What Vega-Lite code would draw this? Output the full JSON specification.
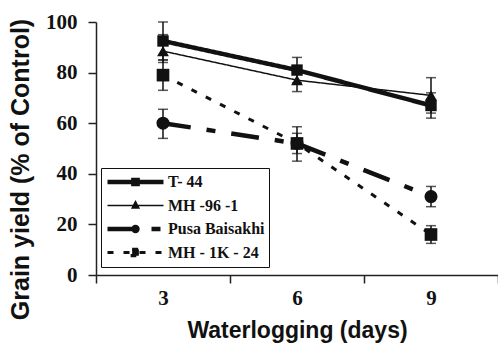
{
  "$schema": "https://vega.github.io/schema/vega-lite/v6.json",
  "width": 402,
  "height": 253,
  "autosize": {"type": "none"},
  "padding": {"left": 96, "top": 22, "right": 0, "bottom": 72},
  "background": "white",
  "config": {
    "view": {"stroke": null},
    "axis": {
      "domainColor": "#222",
      "domainWidth": 1.5,
      "tickColor": "#222",
      "tickWidth": 1.5,
      "tickSize": 8,
      "grid": false,
      "labelFont": "Liberation Serif",
      "labelFontWeight": "bold",
      "labelFontSize": 21,
      "labelColor": "#111",
      "titleFont": "Liberation Sans",
      "titleFontWeight": "bold",
      "titleColor": "#111"
    }
  },
  "data": {
    "values": [
      {"day": 3, "series": "T- 44", "value": 92.5, "lo": 85, "hi": 100},
      {"day": 6, "series": "T- 44", "value": 81, "lo": 76, "hi": 86},
      {"day": 9, "series": "T- 44", "value": 67, "lo": 62, "hi": 72},
      {"day": 3, "series": "MH -96 -1", "value": 88.5, "lo": 84, "hi": 95},
      {"day": 6, "series": "MH -96 -1", "value": 77, "lo": 72.5, "hi": 81.5},
      {"day": 9, "series": "MH -96 -1", "value": 71, "lo": 64, "hi": 78},
      {"day": 3, "series": "Pusa Baisakhi", "value": 60, "lo": 54, "hi": 65.5},
      {"day": 6, "series": "Pusa Baisakhi", "value": 52, "lo": 48, "hi": 56},
      {"day": 9, "series": "Pusa Baisakhi", "value": 31, "lo": 27, "hi": 35},
      {"day": 3, "series": "MH - 1K - 24", "value": 79, "lo": 73, "hi": 85},
      {"day": 6, "series": "MH - 1K - 24", "value": 52, "lo": 45, "hi": 58.6},
      {"day": 9, "series": "MH - 1K - 24", "value": 16, "lo": 12.5, "hi": 19.5}
    ]
  },
  "encoding": {
    "x": {
      "field": "day",
      "type": "ordinal",
      "scale": {"type": "band", "paddingInner": 0, "paddingOuter": 0},
      "axis": {
        "title": "Waterlogging (days)",
        "titleFontSize": 23,
        "titlePadding": 11,
        "labelAngle": 0,
        "tickBand": "extent",
        "labelPadding": 4
      }
    }
  },
  "layer": [
    {
      "mark": {"type": "errorbar", "color": "#111", "thickness": 1.5, "ticks": {"size": 10, "thickness": 1.5}},
      "encoding": {
        "y": {"field": "lo", "type": "quantitative", "title": "Grain yield (% of Control)"},
        "y2": {"field": "hi"},
        "detail": {"field": "series"}
      }
    },
    {
      "mark": {"type": "line", "color": "#111"},
      "encoding": {
        "y": {
          "field": "value",
          "type": "quantitative",
          "title": "Grain yield (% of Control)",
          "scale": {"domain": [0, 100], "nice": false, "zero": false},
          "axis": {
            "title": "Grain yield (% of Control)",
            "titleFontSize": 25,
            "values": [0, 20, 40, 60, 80, 100],
            "labelPadding": 11,
            "titleY": 147,
            "titleX": -63
          }
        },
        "strokeDash": {
          "field": "series",
          "type": "nominal",
          "scale": {
            "domain": ["T- 44", "MH -96 -1", "Pusa Baisakhi", "MH - 1K - 24"],
            "range": [[1, 0], [1, 0], [28, 16, 9, 16], [6, 10]]
          },
          "legend": {
            "title": null,
            "orient": "none",
            "legendX": 5,
            "legendY": 146,
            "padding": 4,
            "strokeColor": "#111",
            "fillColor": "white",
            "symbolSize": 3136,
            "clipHeight": 20,
            "rowPadding": 3.5,
            "labelOffset": 2,
            "labelFont": "Liberation Serif",
            "labelFontWeight": "bold",
            "labelFontSize": 16,
            "labelColor": "#111",
            "symbolStrokeColor": "#111",
            "symbolFillColor": "#111",
            "encode": {
              "symbols": {
                "update": {
                  "shape": {"signal": "datum.value === 'T- 44' ? 'M-1,0H1M-0.075,-0.075H0.075V0.075H-0.075Z' : datum.value === 'MH -96 -1' ? 'M-1,0H1M0,-0.14L0.12,0.09H-0.12Z' : datum.value === 'Pusa Baisakhi' ? 'M-1,0H1M0.07,0A0.07,0.07,0,1,1,-0.07,0A0.07,0.07,0,1,1,0.07,0Z' : 'M-1,0H1M-0.12,-0.12H0.12V0.12H-0.12Z'"},
                  "size": {"value": 3136},
                  "strokeWidth": {"signal": "datum.value === 'T- 44' ? 4.5 : datum.value === 'MH -96 -1' ? 1.5 : datum.value === 'Pusa Baisakhi' ? 4.5 : 3"},
                  "fill": {"value": "#111"},
                  "stroke": {"value": "#111"}
                }
              }
            }
          }
        },
        "strokeWidth": {
          "field": "series",
          "type": "nominal",
          "scale": {
            "type": "ordinal",
            "domain": ["T- 44", "MH -96 -1", "Pusa Baisakhi", "MH - 1K - 24"],
            "range": [4.5, 1.5, 4.5, 3]
          },
          "legend": null
        }
      }
    },
    {
      "transform": [{"filter": "datum.series === 'T- 44'"}],
      "mark": {"type": "point", "filled": true, "color": "#111", "opacity": 1, "shape": "square", "size": 130},
      "encoding": {
        "y": {"field": "value", "type": "quantitative", "title": "Grain yield (% of Control)"}
      }
    },
    {
      "transform": [{"filter": "datum.series === 'MH - 1K - 24'"}],
      "mark": {"type": "point", "filled": true, "color": "#111", "opacity": 1, "shape": "square", "size": 160},
      "encoding": {
        "y": {"field": "value", "type": "quantitative", "title": "Grain yield (% of Control)"}
      }
    },
    {
      "transform": [{"filter": "datum.series === 'MH -96 -1'"}],
      "mark": {"type": "point", "filled": true, "color": "#111", "opacity": 1, "shape": "triangle-up", "size": 140},
      "encoding": {
        "y": {"field": "value", "type": "quantitative", "title": "Grain yield (% of Control)"}
      }
    },
    {
      "transform": [{"filter": "datum.series === 'Pusa Baisakhi'"}],
      "mark": {"type": "point", "filled": true, "color": "#111", "opacity": 1, "shape": "circle", "size": 170},
      "encoding": {
        "y": {"field": "value", "type": "quantitative", "title": "Grain yield (% of Control)"}
      }
    }
  ]
}
